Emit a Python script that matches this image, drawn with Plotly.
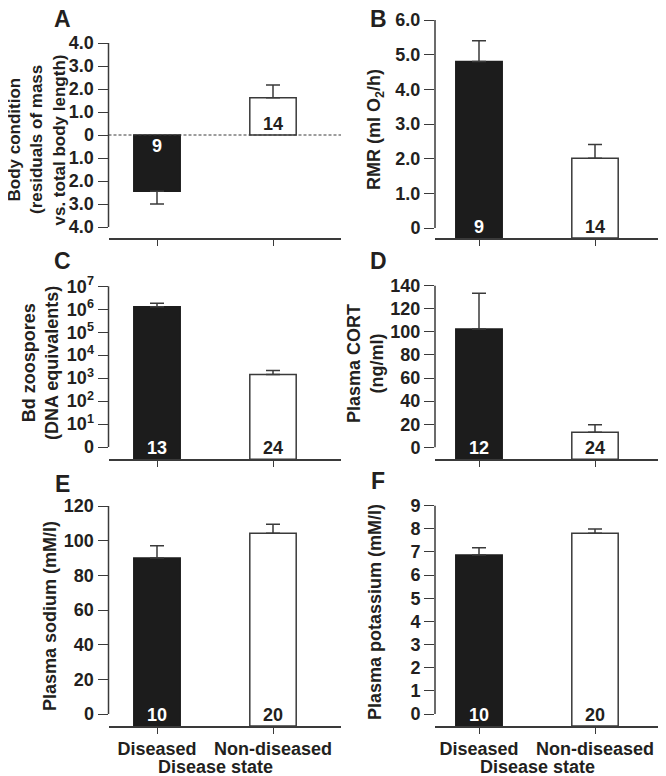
import math
import plotly.graph_objects as go

W, H = 666, 776
OX, OY = 8, 8   # page body margin: figure is drawn 8px right / 8px down in the window

# ---------------- data ----------------
categories = ["Diseased", "Non-diseased"]

body_condition = [-2.45, 1.62]
body_condition_err = [0.55, 0.55]   # diseased: downward, non-diseased: upward
body_condition_n = [9, 14]

rmr = [4.80, 2.01]
rmr_err = [0.60, 0.40]
rmr_n = [9, 14]

bd_zoospores = [1.30e6, 1.45e3]
bd_zoospores_err = [0.52e6, 0.70e3]
bd_zoospores_n = [13, 24]

plasma_cort = [102.5, 13.0]
plasma_cort_err = [31.0, 6.6]
plasma_cort_n = [12, 24]

plasma_sodium = [90.0, 104.3]
plasma_sodium_err = [7.1, 5.2]
plasma_sodium_n = [10, 20]

plasma_potassium = [6.87, 7.81]
plasma_potassium_err = [0.31, 0.18]
plasma_potassium_n = [10, 20]

a_tickvals = [-4, -3, -2, -1, 0, 1, 2, 3, 4]
a_ticktext = ["4.0", "3.0", "2.0", "1.0", "0", "1.0", "2.0", "3.0", "4.0"]
b_tickvals = [0, 1, 2, 3, 4, 5, 6]
b_ticktext = ["0", "1.0", "2.0", "3.0", "4.0", "5.0", "6.0"]
c_tickvals = [1, 10, 1e2, 1e3, 1e4, 1e5, 1e6, 1e7]
c_ticktext = ["0", "10<sup>1</sup>", "10<sup>2</sup>", "10<sup>3</sup>", "10<sup>4</sup>",
              "10<sup>5</sup>", "10<sup>6</sup>", "10<sup>7</sup>"]
d_tickvals = [0, 20, 40, 60, 80, 100, 120, 140]
e_tickvals = [0, 20, 40, 60, 80, 100, 120]
f_tickvals = [0, 1, 2, 3, 4, 5, 6, 7, 8, 9]

panel_letters = ["A", "B", "C", "D", "E", "F"]
a_title_lines = ["Body condition", "(residuals of mass", "vs. total body length)"]
y_titles = [
    None,
    "RMR (ml O<sub>2</sub>/h)",
    "Bd zoospores<br>(DNA equivalents)",
    "Plasma CORT<br>(ng/ml)",
    "Plasma sodium (mM/l)",
    "Plasma potassium (mM/l)",
]
x_title = "Disease state"

# ---------------- styling / layout geometry ----------------
TEXT = "#231f20"
LINE = "#3a3a3a"
BLACK = "#1c1c1c"
FONT = "Liberation Sans, Arial, sans-serif"


def fx(px):
    return (px - OX) / W


def fy(py):
    return 1 - (py - OY) / H


# column x extents (window px) and category centre pixels
cols = [dict(x0=108.5, x1=341.0, c0=157.0, c1=273.0),
        dict(x0=435.0, x1=666.0, c0=479.0, c1=595.0)]

# panel: column, log?, (val_hi, px_hi, val_lo, px_lo), domain top px, bottom px
panels = [
    dict(col=0, log=False, cal=(4.0, 43.0, -4.0, 227.0), T=41, B=238,
         vals=body_condition, err=body_condition_err, n=body_condition_n,
         tv=a_tickvals, tt=a_ticktext, axlo=-4, axhi=4),
    dict(col=1, log=False, cal=(6.0, 20.0, 0.0, 228.0), T=18, B=238,
         vals=rmr, err=rmr_err, n=rmr_n, tv=b_tickvals, tt=b_ticktext, axlo=0, axhi=6),
    dict(col=0, log=True, cal=(7.0, 286.3, 0.0, 447.0), T=284, B=459.3,
         vals=bd_zoospores, err=bd_zoospores_err, n=bd_zoospores_n,
         tv=c_tickvals, tt=c_ticktext, axlo=0, axhi=7),
    dict(col=1, log=False, cal=(140.0, 285.7, 0.0, 447.3), T=284, B=459.3,
         vals=plasma_cort, err=plasma_cort_err, n=plasma_cort_n,
         tv=d_tickvals, tt=[str(v) for v in d_tickvals], axlo=0, axhi=140),
    dict(col=0, log=False, cal=(120.0, 506.0, 0.0, 714.0), T=504, B=726,
         vals=plasma_sodium, err=plasma_sodium_err, n=plasma_sodium_n,
         tv=e_tickvals, tt=[str(v) for v in e_tickvals], axlo=0, axhi=120),
    dict(col=1, log=False, cal=(9.0, 505.7, 0.0, 714.0), T=504, B=726,
         vals=plasma_potassium, err=plasma_potassium_err, n=plasma_potassium_n,
         tv=f_tickvals, tt=[str(v) for v in f_tickvals], axlo=0, axhi=9),
]

letter_pos = [(62, 19), (378, 19), (62, 261), (378, 261.5), (62, 483.5), (378, 481)]
title_pos = [None, (375, 130), (41, 363), (366, 364), (50, 616), (375, 612)]
a_title_x = [13.5, 36, 58.5]
a_title_y = 140

fig = go.Figure()
layout = dict(template="none", width=W, height=H,
              margin=dict(l=0, r=0, t=0, b=0, pad=0, autoexpand=False),
              paper_bgcolor="white", plot_bgcolor="white", showlegend=False,
              barmode="overlay",
              font=dict(family=FONT, size=18, color=TEXT, weight="bold"))
shapes, annotations = [], []

for i, p in enumerate(panels):
    k = i + 1
    sfx = "" if k == 1 else str(k)
    xa, ya = "x" + sfx, "y" + sfx
    col = cols[p["col"]]
    spc = col["c1"] - col["c0"]
    xr = [(col["x0"] - col["c0"]) / spc, (col["x1"] - col["c0"]) / spc]

    vhi, phi, vlo, plo = p["cal"]
    s = (plo - phi) / (vhi - vlo)
    r_top = vhi + (phi - p["T"]) / s
    r_bot = vlo - (p["B"] - plo) / s
    dom = [fy(p["B"]), fy(p["T"])]

    layout["xaxis" + sfx] = dict(
        domain=[fx(col["x0"]), min(1.0, fx(col["x1"]))], anchor=ya, type="category",
        categoryorder="array", categoryarray=categories, range=xr, automargin=False,
        showline=True, linecolor=LINE, linewidth=1.5, ticks="outside", ticklen=6,
        tickwidth=1.2, tickcolor=LINE, showgrid=False, zeroline=False,
        showticklabels=(i >= 4), tickfont=dict(size=18), fixedrange=True)
    layout["yaxis" + sfx] = dict(
        domain=dom, anchor=xa, type="log" if p["log"] else "linear", automargin=False,
        range=[r_bot, r_top], showline=False, ticks="outside", ticklen=10,
        tickwidth=1.2, tickcolor=LINE, showgrid=False, zeroline=False,
        tickmode="array", tickvals=p["tv"], ticktext=p["tt"],
        tickfont=dict(size=18), fixedrange=True)

    # base of bars (bars rise from the detached x-axis line)
    if i == 0:
        base = 0.0
    elif p["log"]:
        base = 10 ** r_bot
    else:
        base = r_bot

    for j, cat in enumerate(categories):
        v = p["vals"][j]
        e = p["err"][j]
        neg = v < 0
        fig.add_trace(go.Bar(
            x=[cat], y=[v - base], base=[base], xaxis=xa, yaxis=ya, width=0.4,
            marker=dict(color=BLACK if j == 0 else "white",
                        line=dict(color=BLACK if j == 0 else LINE, width=1.5)),
            error_y=dict(type="data", symmetric=False,
                         array=[0 if neg else e], arrayminus=[e if neg else 0],
                         color=LINE, thickness=1.5, width=7),
            hoverinfo="skip"))
        # n label inside the bar at its base
        if i == 0:
            annotations.append(dict(
                x=cat, y=0, xref=xa, yref=ya, text=str(p["n"][j]), showarrow=False,
                xanchor="center", yanchor="middle", yshift=-11 if neg else 11,
                font=dict(size=18, color="white" if j == 0 else TEXT)))
        else:
            annotations.append(dict(
                x=cat, y=0, xref=xa, yref=ya + " domain", text=str(p["n"][j]),
                showarrow=False, xanchor="center", yanchor="middle", yshift=11,
                font=dict(size=18, color="white" if j == 0 else TEXT)))

    # y-axis line from lowest to highest tick (detached from x-axis)
    f_lo = (p["axlo"] - r_bot) / (r_top - r_bot)
    f_hi = (p["axhi"] - r_bot) / (r_top - r_bot)
    shapes.append(dict(type="line", xref=xa + " domain", yref=ya + " domain",
                       x0=0, x1=0, y0=f_lo, y1=f_hi,
                       line=dict(color=LINE, width=1.5)))

    if i == 0:
        shapes.append(dict(type="line", xref=xa + " domain", yref=ya,
                           x0=0, x1=1, y0=0, y1=0,
                           line=dict(color=LINE, width=1, dash="3px,2px")))

    lx, ly = letter_pos[i]
    annotations.append(dict(x=fx(lx), y=fy(ly), xref="paper", yref="paper",
                            text=panel_letters[i], showarrow=False,
                            xanchor="center", yanchor="middle",
                            font=dict(size=23, color=TEXT)))
    if i == 0:
        for line_text, lxp in zip(a_title_lines, a_title_x):
            annotations.append(dict(x=fx(lxp), y=fy(a_title_y), xref="paper", yref="paper",
                                    text=line_text, showarrow=False, textangle=-90,
                                    xanchor="center", yanchor="middle",
                                    font=dict(size=17, color=TEXT)))
    else:
        tx, ty = title_pos[i]
        annotations.append(dict(x=fx(tx), y=fy(ty), xref="paper", yref="paper",
                                text=y_titles[i], showarrow=False, textangle=-90,
                                xanchor="center", yanchor="middle",
                                font=dict(size=18, color=TEXT)))
    if i >= 4:
        annotations.append(dict(x=0.5, y=fy(767), xref=xa, yref="paper",
                                text=x_title, showarrow=False,
                                xanchor="center", yanchor="middle",
                                font=dict(size=18, color=TEXT)))

layout["shapes"] = shapes
layout["annotations"] = annotations
fig.update_layout(**layout)
fig.write_html("out.html")
